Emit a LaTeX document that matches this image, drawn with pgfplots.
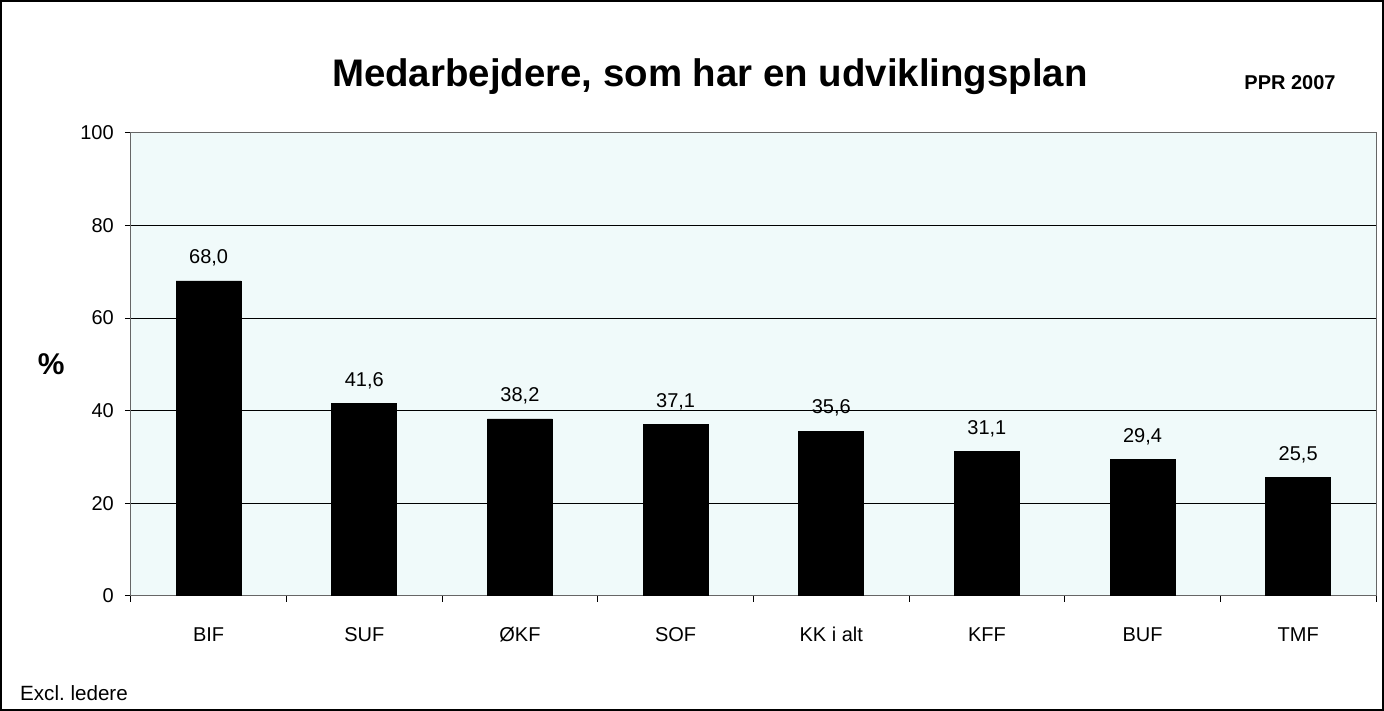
\documentclass[border=0pt]{standalone}
\usepackage{pgfplots}
\pgfplotsset{compat=1.18}
\usepackage{fontspec}
\setmainfont{Liberation Sans}
\definecolor{plotbg}{HTML}{F0FAFA}
\frenchspacing
\begin{document}
\begin{tikzpicture}
\begin{axis}[
  name=ax,
  scale only axis,
  width=622.5pt, height=231.5pt,
  ybar, bar width=32.5pt,
  xmin=-0.5, xmax=7.5,
  ymin=0, ymax=100,
  ytick={0,20,...,100},
  xtick={0,...,7},
  xticklabels={BIF,SUF,ØKF,SOF,KK i alt,KFF,BUF,TMF},
  minor xtick={-0.5,0.5,...,7.5},
  xtick pos=bottom, ytick pos=left,
  major x tick style={draw=none},
  tick align=outside,
  major tick length=3pt, minor tick length=3pt,
  tick style={black, thin},
  ymajorgrids, grid style={black, thin},
  axis background/.style={fill=plotbg},
  axis line style={gray!80!black},
  ticklabel style={font=\fontsize{10}{12}\selectfont},
  xticklabel style={yshift=-9pt, text height=7.5pt, text depth=0pt},
  yticklabel style={xshift=-2pt},
  /pgf/number format/assume math mode=true,
  nodes near coords,
  nodes near coords style={font=\fontsize{10}{12}\selectfont, anchor=south, yshift=5pt,
    text height=7.5pt, text depth=0pt,
    /pgf/number format/.cd, fixed, fixed zerofill, precision=1, use comma},
]
\addplot[fill=black, draw=black] coordinates {
  (0,68.0) (1,41.6) (2,38.2) (3,37.1) (4,35.6) (5,31.1) (6,29.4) (7,25.5)};
\end{axis}
\draw[black, line width=0.8pt] ([xshift=-65pt,yshift=-57pt]ax.south west) rectangle ([xshift=3.6pt,yshift=66pt]ax.north east);
\node[font=\bfseries\fontsize{19.2}{22}\selectfont] at ([xshift=-21.75pt,yshift=28pt]ax.north) {Medarbejdere, som har en udviklingsplan};
\node[font=\bfseries\fontsize{10}{12}\selectfont] at ([xshift=-43pt,yshift=25pt]ax.north east) {PPR 2007};
\node[font=\bfseries\fontsize{15}{17}\selectfont] at ([xshift=-39.75pt]ax.west) {\%};
\node[font=\fontsize{10.3}{12}\selectfont, anchor=west, inner sep=0pt] at ([xshift=-55.5pt,yshift=-48.5pt]ax.south west) {Excl. ledere};
\end{tikzpicture}
\end{document}
